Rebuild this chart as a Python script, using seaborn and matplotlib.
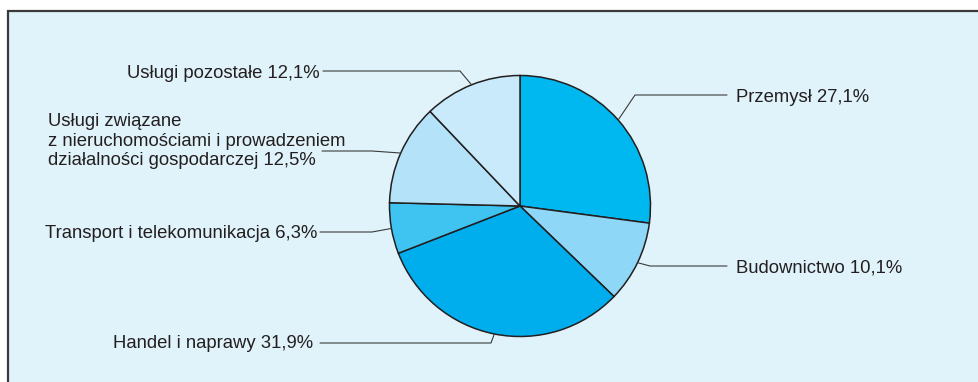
import numpy as np
import matplotlib
matplotlib.use("Agg")
import matplotlib.pyplot as plt
from matplotlib.patches import Rectangle
import seaborn as sns

# Sector shares of the economy (%), clockwise from the top
sectors = [
    "Przemysł",
    "Budownictwo",
    "Handel i naprawy",
    "Transport i telekomunikacja",
    "Usługi związane\nz nieruchomościami i prowadzeniem\ndziałalności gospodarczej",
    "Usługi pozostałe",
]
shares = [27.1, 10.1, 31.9, 6.3, 12.5, 12.1]
share_labels = ["27,1%", "10,1%", "31,9%", "6,3%", "12,5%", "12,1%"]
slice_colors = ["#00b8f0", "#8fd7f6", "#00aeee", "#3fc4f2", "#b3e2f9", "#c8eafa"]

# Label placement in pixel space (x, y of text anchor, elbow x, end of line x, side)
label_layout = [
    (736, 97, 635, 727, "left"),
    (736, 268, 650, 727, "left"),
    (313, 343, 491, 320, "right"),
    (317, 233, 372, 320, "right"),
    (48, 141, 372, 322, "left"),
    (320, 73, 460, 323, "right"),
]
line_y_offset = [-2, -2, 0, -1, 10, -2]

W, H = 979, 382
sns.set_theme(style="white")
plt.rcParams["font.family"] = ["Liberation Sans", "DejaVu Sans"]

fig = plt.figure(figsize=(W / 100, H / 100), dpi=100, facecolor="white")
ax = fig.add_axes([0, 0, 1, 1])
ax.set_axis_off()

# Panel background with a dark frame on top and left
ax.add_patch(Rectangle((8.5, 11), W + 20, H + 20, facecolor="#e0f3fb",
                       edgecolor="#3a3a3a", linewidth=1.6, zorder=0))

center = (520, 206)
radius = 130.5
palette = sns.color_palette(slice_colors)

# y axis points down, so a counterclockwise sweep in data space reads clockwise
wedges, _ = ax.pie(shares, colors=palette, startangle=-90, counterclock=True,
                   center=center, radius=radius,
                   wedgeprops=dict(edgecolor="#231f20", linewidth=1.1))
ax.set_xlim(0, W)
ax.set_ylim(H, 0)
ax.set_aspect("equal")

for wedge, name, lab, (tx, ty, ex, lx, side), dy in zip(
        wedges, sectors, share_labels, label_layout, line_y_offset):
    mid = np.deg2rad((wedge.theta1 + wedge.theta2) / 2)
    px = center[0] + radius * np.cos(mid)
    py = center[1] + radius * np.sin(mid)
    ly = ty + dy
    ax.plot([px, ex, lx], [py, ly, ly], color="#3a3a3a", lw=0.8,
            solid_joinstyle="miter", zorder=3)
    ax.text(tx, ty, f"{name} {lab}", ha=side if side == "left" else "right",
            va="center", fontsize=13.3, color="#231f20", linespacing=1.2,
            multialignment="left")

fig.savefig("out.png", dpi=100, facecolor="white")
